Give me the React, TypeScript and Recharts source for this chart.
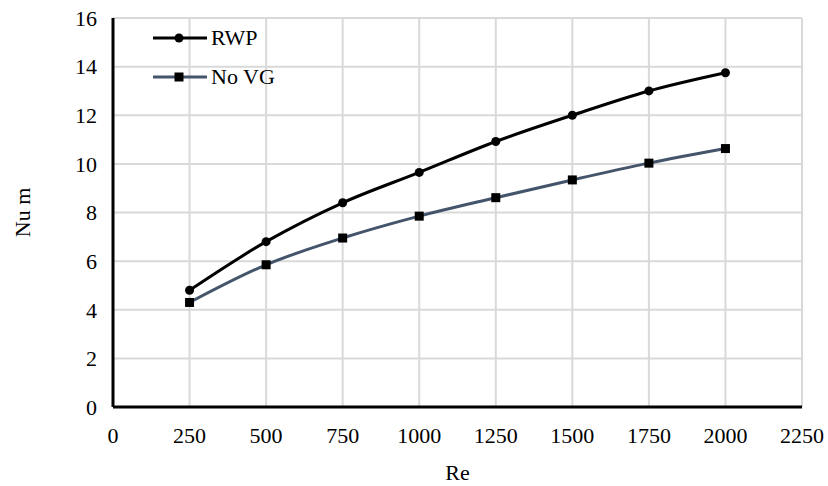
import React from 'react';
import { CartesianGrid, Line, LineChart, XAxis, YAxis } from 'recharts';

const reValues = [250, 500, 750, 1000, 1250, 1500, 1750, 2000];
const rwpValues = [4.8, 6.8, 8.4, 9.65, 10.92, 12.0, 13.0, 13.75];
const noVgValues = [4.3, 5.85, 6.95, 7.85, 8.61, 9.34, 10.03, 10.63];
const xTicks = [0, 250, 500, 750, 1000, 1250, 1500, 1750, 2000, 2250];
const yTicks = [0, 2, 4, 6, 8, 10, 12, 14, 16];

const data = reValues.map((re, i) => ({ re, RWP: rwpValues[i], 'No VG': noVgValues[i] }));

const FONT = '"Liberation Serif", "Times New Roman", serif';

const SquareDot = (props: any) => {
  const { cx, cy } = props;
  if (cx == null || cy == null) return null;
  return <rect x={cx - 4.5} y={cy - 4.5} width={9} height={9} fill="#000" />;
};

const legendItems = [
  { name: 'RWP', color: '#000', marker: 'circle' },
  { name: 'No VG', color: '#44546A', marker: 'square' },
];

const ChartLegend = () => (
  <div style={{ position: 'absolute', left: 152, top: 18, fontFamily: FONT, fontSize: 22, color: '#000' }}>
    {legendItems.map((it) => (
      <div key={it.name} style={{ display: 'flex', alignItems: 'center', height: 39 }}>
        <svg width={56} height={12} style={{ marginRight: 3 }}>
          <line x1={1} y1={6} x2={55} y2={6} stroke={it.color} strokeWidth={3} />
          {it.marker === 'circle' ? (
            <circle cx={27} cy={6} r={4.5} fill="#000" />
          ) : (
            <rect x={22.5} y={1.5} width={9} height={9} fill="#000" />
          )}
        </svg>
        <span>{it.name}</span>
      </div>
    ))}
  </div>
);

export default function App() {
  return (
    <div style={{ position: 'absolute', left: 0, top: 0, width: 828, height: 486, background: '#fff' }}>
      <LineChart width={828} height={486} data={data} margin={{ top: 18, right: 26, bottom: 0, left: 0 }}>
        <CartesianGrid stroke="#d9d9d9" strokeWidth={2} />
        <XAxis
          dataKey="re"
          type="number"
          domain={[0, 2250]}
          ticks={xTicks}
          height={79}
          axisLine={{ stroke: '#000', strokeWidth: 3 }}
          tickLine={false}
          tickMargin={14}
          tick={{ fontFamily: FONT, fontSize: 22, fill: '#000' }}
          label={{ value: 'Re', position: 'insideBottom', offset: 6, style: { fontFamily: FONT, fontSize: 22, fill: '#000' } }}
        />
        <YAxis
          type="number"
          domain={[0, 16]}
          ticks={yTicks}
          width={113}
          axisLine={{ stroke: '#000', strokeWidth: 3 }}
          tickLine={false}
          tickMargin={10}
          tick={{ fontFamily: FONT, fontSize: 22, fill: '#000' }}
          label={{ value: 'Nu m', angle: -90, position: 'insideLeft', offset: 22, style: { fontFamily: FONT, fontSize: 22, fill: '#000', textAnchor: 'middle' } }}
        />
        <Line
          type="monotone"
          dataKey="No VG"
          stroke="#44546A"
          strokeWidth={3}
          dot={<SquareDot />}
          isAnimationActive={false}
        />
        <Line
          type="monotone"
          dataKey="RWP"
          stroke="#000"
          strokeWidth={3}
          dot={{ r: 4.5, fill: '#000', stroke: '#000', strokeWidth: 0 }}
          isAnimationActive={false}
        />
      </LineChart>
      <ChartLegend />
    </div>
  );
}
